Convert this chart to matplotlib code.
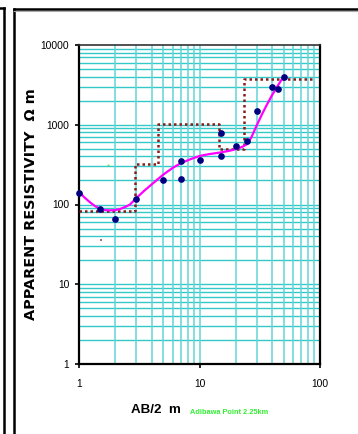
import matplotlib
matplotlib.use("Agg")
import matplotlib.pyplot as plt
from matplotlib.lines import Line2D
from matplotlib.ticker import FixedLocator
import matplotlib.font_manager as fm

# Measured apparent resistivity (Schlumberger sounding)
ab2 = [1, 1.5, 2, 3, 5, 7, 7, 10, 15, 15, 20, 25, 30, 40, 45, 50]
rho_a = [140, 88, 66, 118, 201, 352, 207, 366, 790, 405, 548, 622, 1482, 2995, 2826, 3990]

# Smoothed field curve
curve_x = [1, 1.1, 1.23, 1.35, 1.5, 1.65, 1.8, 2.0, 2.2, 2.45, 2.65, 3.0, 3.5, 4.0,
           5.0, 6.0, 7.0, 8.5, 10, 12, 15, 18, 21, 23, 25, 27, 30, 33, 36, 40, 45, 50]
curve_y = [146, 124, 107, 96, 88, 85, 84.5, 85, 88, 94, 100, 121, 150, 178,
           237, 288, 330, 372, 406, 428, 450, 474, 505, 535, 575, 700, 1000, 1350, 1750, 2350, 3150, 4050]

# Interpreted layer model: layer boundaries (AB/2) and layer resistivities
layer_tops = [1, 2.9, 4.5, 14.6, 23.4, 88]
layer_rho = [82, 323, 1030, 500, 3760, 3760]

# Stray specks
speck_green = ([1.74], [313])
speck_brown = ([1.52], [36])

x_ticks = [1, 10, 100]
x_ticklabels = ["1", "10", "100"]
y_ticks = [1, 10, 100, 1000, 10000]
y_ticklabels = ["1", "10", "100", "1000", "10000"]

W, H = 358, 434
fig = plt.figure(figsize=(W / 100, H / 100), dpi=100)
fig.patch.set_facecolor("white")

names = {f.name for f in fm.fontManager.ttflist}
has_narrow = "Liberation Sans Narrow" in names
tick_family = "Liberation Sans Narrow" if has_narrow else "Liberation Sans"
tick_size = 8.2 if has_narrow else 7.4

ax = fig.add_axes([79 / W, 1 - 364 / H, (320 - 79) / W, (364 - 45) / H])
ax.set_xscale("log")
ax.set_yscale("log")
ax.set_xlim(1, 100)
ax.set_ylim(1, 10000)

# Grid lines at every 1..9 multiple
minors = [m * 10 ** e for e in range(0, 4) for m in range(1, 10)]
for v in minors:
    if 1 <= v <= 10000:
        ax.axhline(v, color="#35c8c8", lw=1.0, zorder=1)
for v in minors:
    if 1 <= v <= 100:
        ax.axvline(v, color="#62d4d4", lw=1.1, zorder=1)

ax.step(layer_tops, layer_rho, where="post", color="#8b1a1a", lw=1.8,
        linestyle=(0, (1, 1.2)), zorder=3)
ax.plot(curve_x, curve_y, color="#ff00ff", lw=1.6, zorder=4, solid_capstyle="round")
ax.plot(ab2, rho_a, "o", color="#000080", ms=3.8, mec="#000080", zorder=5, clip_on=False)
ax.plot(*speck_green, "s", color="#33ee33", ms=1.2, mew=0, zorder=5)
ax.plot(*speck_brown, "s", color="#b07070", ms=1.5, mew=0, zorder=5)

ax.xaxis.set_major_locator(FixedLocator(x_ticks))
ax.yaxis.set_major_locator(FixedLocator(y_ticks))
ax.xaxis.set_minor_locator(FixedLocator([]))
ax.yaxis.set_minor_locator(FixedLocator([]))
ax.set_xticklabels(x_ticklabels)
ax.set_yticklabels(y_ticklabels)
ax.tick_params(axis="both", direction="out", length=3, width=1.2, color="black",
               labelsize=tick_size, labelcolor="black")
ax.tick_params(axis="x", pad=8)
ax.tick_params(axis="y", pad=4)
for lab in ax.get_xticklabels() + ax.get_yticklabels():
    lab.set_fontfamily(tick_family)

for side in ["left", "bottom", "top", "right"]:
    ax.spines[side].set_color("black")
    ax.spines[side].set_linewidth(1.6)
ax.spines["top"].set_color("#333333")
ax.spines["top"].set_linewidth(1.2)

fig.text(31 / W, 1 - 204 / H, "APPARENT RESISTIVITY  \u03a9 m", rotation=90,
         ha="center", va="center", fontsize=10.4, fontweight="bold",
         family="DejaVu Sans", color="black")
fig.text(131 / W, 1 - 410 / H, "AB/2  m", ha="left", va="center", fontsize=9.6,
         fontweight="bold", family="Liberation Sans", color="black")
fig.text(190 / W, 1 - 412 / H, "Adibawa Point 2.25km", ha="left", va="center",
         fontsize=5.3, fontweight="bold", family="Liberation Sans", color="#33ee33")

# Page frame lines
def fline(xs, ys, lw=1.8, color="black"):
    fig.add_artist(Line2D([x / W for x in xs], [1 - y / H for y in ys],
                          transform=fig.transFigure, color=color, lw=lw))

fline([3.5, 3.5], [8, 434])
fline([0, 3.5], [8.3, 8.3])
fline([14, 14], [9, 434])
fline([14, 358], [9, 9])
fline([14, 358], [10.6, 10.6], lw=0.8, color="#aaaaaa")

fig.savefig("out.png", dpi=100)
